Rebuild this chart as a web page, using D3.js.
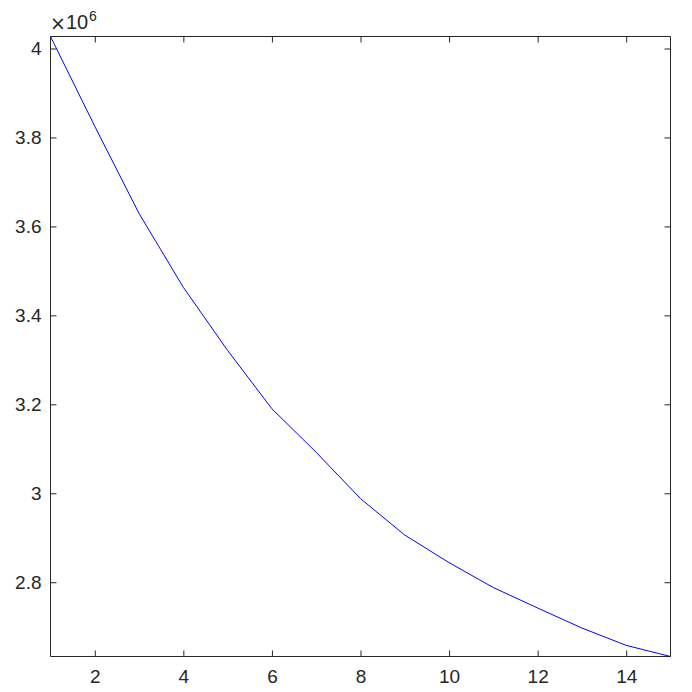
<!DOCTYPE html>
<html>
<head>
<meta charset="utf-8">
<script src="https://cdn.jsdelivr.net/npm/d3@7"></script>
<style>
html,body{margin:0;padding:0;background:#fff;}
svg{display:block;font-family:"Liberation Sans",Arial,Helvetica,sans-serif;}
</style>
</head>
<body>
<svg id="chart" width="692" height="692"></svg>
<script>
const xValues = [1,2,3,4,5,6,7,8,9,10,11,12,13,14,15];
const yValues = [4.027e6,3.825e6,3.629e6,3.463e6,3.321e6,3.190e6,3.092e6,2.988e6,2.906e6,2.844e6,2.788e6,2.742e6,2.697e6,2.658e6,2.633e6];
const xTicks = [2,4,6,8,10,12,14];
const yTicks = [2.8e6,3.0e6,3.2e6,3.4e6,3.6e6,3.8e6,4.0e6];
const yTickLabels = ["2.8","3","3.2","3.4","3.6","3.8","4"];
const exponentLabel = "6";

const svg = d3.select("#chart");
const L = 50.5, R = 670.5, T = 36.5, B = 656.5;
const axisColor = "#262626";
const fontSize = "19px";

const x = d3.scaleLinear().domain([1,15]).range([L,R]);
const y = d3.scaleLinear().domain([d3.min(yValues), d3.max(yValues)]).range([B,T]);

const tickLen = 6;

const gB = svg.append("g").attr("transform",`translate(0,${B})`)
  .call(d3.axisBottom(x).tickValues(xTicks).tickSizeInner(-tickLen).tickSizeOuter(0).tickPadding(13).tickFormat(d3.format("d")));
const gT = svg.append("g").attr("transform",`translate(0,${T})`)
  .call(d3.axisTop(x).tickValues(xTicks).tickSizeInner(-tickLen).tickSizeOuter(0).tickFormat(""));
const gL = svg.append("g").attr("transform",`translate(${L},0)`)
  .call(d3.axisLeft(y).tickValues(yTicks).tickSizeInner(-tickLen).tickSizeOuter(0).tickPadding(9).tickFormat((d,i)=>yTickLabels[i]));
const gR = svg.append("g").attr("transform",`translate(${R},0)`)
  .call(d3.axisRight(y).tickValues(yTicks).tickSizeInner(-tickLen).tickSizeOuter(0).tickFormat(""));

[gB,gT,gL,gR].forEach(g=>{
  g.attr("font-size",null).attr("font-family",null);
  g.select(".domain").remove();
  g.selectAll(".tick line").attr("stroke",axisColor);
  g.selectAll(".tick text").attr("fill",axisColor).style("font-size",fontSize);
});

svg.append("line").attr("x1",L).attr("x2",R).attr("y1",B).attr("y2",B).attr("stroke",axisColor);
svg.append("line").attr("x1",L).attr("x2",L).attr("y1",T).attr("y2",B).attr("stroke",axisColor);
svg.append("line").attr("x1",L).attr("x2",R).attr("y1",T).attr("y2",T).attr("stroke",axisColor);
svg.append("line").attr("x1",R).attr("x2",R).attr("y1",T).attr("y2",B).attr("stroke",axisColor);

const line = d3.line().x((d,i)=>x(xValues[i])).y(d=>y(d));
svg.append("path").datum(yValues).attr("d",line).attr("fill","none").attr("stroke","#0000ff").attr("stroke-width",1);

// exponent label "×10^6"
svg.append("text").attr("x",50).attr("y",30).attr("fill",axisColor)
  .style("font-family","'DejaVu Sans'").style("font-size","19px").text("×");
svg.append("text").attr("x",66).attr("y",29).attr("fill",axisColor)
  .style("font-size","20px").text("10");
svg.append("text").attr("x",89).attr("y",21).attr("fill",axisColor)
  .style("font-size","14px").text(exponentLabel);
</script>
</body>
</html>
